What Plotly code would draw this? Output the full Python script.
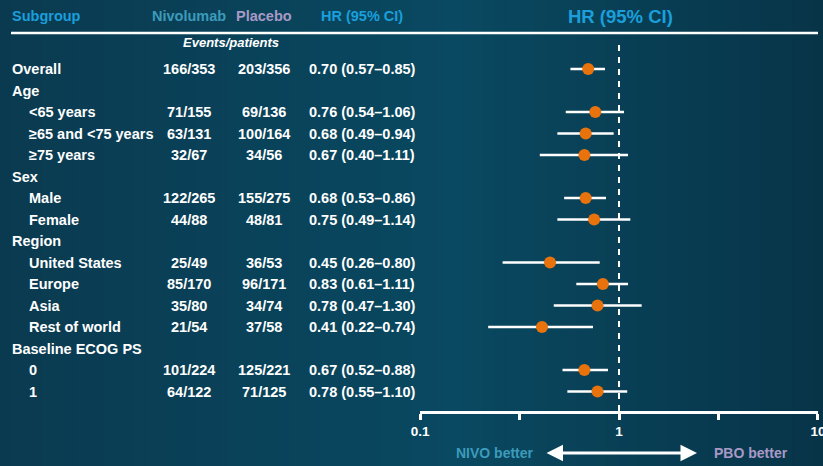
import plotly.graph_objects as go

# ---------------- data ----------------
rows = ["Overall", "Age", "<65 years", "≥65 and <75 years", "≥75 years",
        "Sex", "Male", "Female", "Region", "United States", "Europe", "Asia",
        "Rest of world", "Baseline ECOG PS", "0", "1"]
indent = [0, 0, 1, 1, 1, 0, 1, 1, 0, 1, 1, 1, 1, 0, 1, 1]
nivo = ["166/353", "", "71/155", "63/131", "32/67", "", "122/265", "44/88", "",
        "25/49", "85/170", "35/80", "21/54", "", "101/224", "64/122"]
pbo = ["203/356", "", "69/136", "100/164", "34/56", "", "155/275", "48/81", "",
       "36/53", "96/171", "34/74", "37/58", "", "125/221", "71/125"]
hr = [0.70, None, 0.76, 0.68, 0.67, None, 0.68, 0.75, None, 0.45, 0.83, 0.78, 0.41, None, 0.67, 0.78]
lo = [0.57, None, 0.54, 0.49, 0.40, None, 0.53, 0.49, None, 0.26, 0.61, 0.47, 0.22, None, 0.52, 0.55]
hi = [0.85, None, 1.06, 0.94, 1.11, None, 0.86, 1.14, None, 0.80, 1.11, 1.30, 0.74, None, 0.88, 1.10]
tick_vals = [0.1, 0.316, 1, 3.16, 10]
tick_text = ["0.1", "", "1", "", "10"]

# ---------------- layout constants ----------------
W, H = 823, 466
FONT = "Liberation Sans, Arial, sans-serif"
ROW0, DY = 69, 21.5          # pixel y of first row, row spacing
AXIS_Y = 411                 # pixel y of x axis line
BLUE = "#1a9fdc"
NIVO_C = "#3c9bbb"
PBO_C = "#a999c6"
ORANGE = "#e8720c"

def py(p):  # pixel y -> paper y
    return 1 - p / H

def px(p):  # pixel x -> paper x
    return p / W

fig = go.Figure()

# CI lines
xs, ys = [], []
for i, (l, h) in enumerate(zip(lo, hi)):
    if l is None:
        continue
    xs += [l, h, None]
    ys += [i, i, None]
fig.add_trace(go.Scatter(x=xs, y=ys, mode="lines",
                         line=dict(color="white", width=2.5),
                         hoverinfo="skip", showlegend=False))
# point estimates
pi = [i for i, v in enumerate(hr) if v is not None]
fig.add_trace(go.Scatter(x=[hr[i] for i in pi], y=pi, mode="markers",
                         marker=dict(color=ORANGE, size=12, line=dict(width=0)),
                         showlegend=False))

# background gradient (stripes)
shapes = []
N = 80
def lerp(a, b, t):
    return tuple(int(round(a[k] + (b[k] - a[k]) * t)) for k in range(3))
left_c, mid_c, right_c = (10, 58, 80), (9, 73, 97), (8, 52, 72)
for k in range(N):
    t = (k + 0.5) / N
    if t < 0.55:
        c = lerp(left_c, mid_c, t / 0.55)
    else:
        c = lerp(mid_c, right_c, (t - 0.55) / 0.45)
    shapes.append(dict(type="rect", xref="paper", yref="paper",
                       x0=k / N, x1=(k + 1) / N + 0.002, y0=0, y1=1,
                       fillcolor="rgb(%d,%d,%d)" % c, line=dict(width=0),
                       layer="below"))

# header rule
shapes.append(dict(type="line", xref="paper", yref="paper",
                   x0=px(11), x1=px(818), y0=py(33), y1=py(33),
                   line=dict(color="white", width=2.5)))
# reference line at HR = 1
shapes.append(dict(type="line", xref="x", yref="paper", x0=1, x1=1,
                   y0=py(AXIS_Y), y1=py(41),
                   line=dict(color="white", width=2, dash="6px,6px")))

ann = []
def txt(x, y, s, size=14.5, color="white", xanchor="left", yref="y"):
    ann.append(dict(x=x, y=y, xref="paper", yref=yref, text=s, showarrow=False,
                    xanchor=xanchor, yanchor="middle", borderpad=0,
                    font=dict(family=FONT, size=size, color=color)))

# headers
txt(px(11), py(16), "<b>Subgroup</b>", color=BLUE, yref="paper")
txt(px(189), py(16), "<b>Nivolumab</b>", color=NIVO_C, xanchor="center", yref="paper")
txt(px(264), py(16), "<b>Placebo</b>", color=PBO_C, xanchor="center", yref="paper")
txt(px(362), py(16), "<b>HR (95% CI)</b>", color=BLUE, xanchor="center", yref="paper")
txt(px(620), py(16), "<b>HR (95% CI)</b>", size=18.5, color=BLUE, xanchor="center", yref="paper")
txt(px(231), py(43), "<b><i>Events/patients</i></b>", size=13, xanchor="center", yref="paper")

# table rows
for i, name in enumerate(rows):
    txt(px(11 if indent[i] == 0 else 28), i, "<b>%s</b>" % name)
    if nivo[i]:
        txt(px(189), i, "<b>%s</b>" % nivo[i], xanchor="center")
        txt(px(264), i, "<b>%s</b>" % pbo[i], xanchor="center")
    if hr[i] is not None:
        txt(px(308), i, "<b>%.2f (%.2f–%.2f)</b>" % (hr[i], lo[i], hi[i]))

# bottom labels and arrow
txt(px(535), py(453), "<b>NIVO better</b>", size=14, color=NIVO_C, xanchor="right", yref="paper")
txt(px(713), py(453), "<b>PBO better</b>", size=14, color=PBO_C, xanchor="left", yref="paper")
ann.append(dict(x=px(697), y=py(453), xref="paper", yref="paper",
                ax=-152, ay=0, axref="pixel", ayref="pixel", text="",
                showarrow=True, arrowside="end+start", arrowhead=2,
                arrowsize=1.1, arrowwidth=3, arrowcolor="white"))

y_top = -ROW0 / DY
y_bot = (AXIS_Y - ROW0) / DY

fig.update_layout(
    width=W, height=H,
    margin=dict(l=0, r=0, t=0, b=0, autoexpand=False),
    paper_bgcolor="#0a4259",
    plot_bgcolor="rgba(0,0,0,0)",
    shapes=shapes, annotations=ann,
    xaxis=dict(type="log", range=[-1.0003, 1.0003], domain=[px(420), px(818)],
               showgrid=False, zeroline=False, showline=True,
               linecolor="white", linewidth=2.5, automargin=False,
               ticks="outside", ticklen=6, tickwidth=2.5, tickcolor="white",
               tickvals=tick_vals, ticktext=tick_text, ticklabeloverflow="allow",
               tickfont=dict(family=FONT, size=13.5, color="white", weight="bold")),
    yaxis=dict(range=[y_bot, y_top], domain=[py(AXIS_Y), 1], automargin=False,
               visible=False, showgrid=False, zeroline=False),
    showlegend=False,
)

fig.write_html("out.html", config={"displayModeBar": False},
               post_script="document.body.style.margin='0';document.body.style.padding='0';document.body.style.overflow='hidden';")
